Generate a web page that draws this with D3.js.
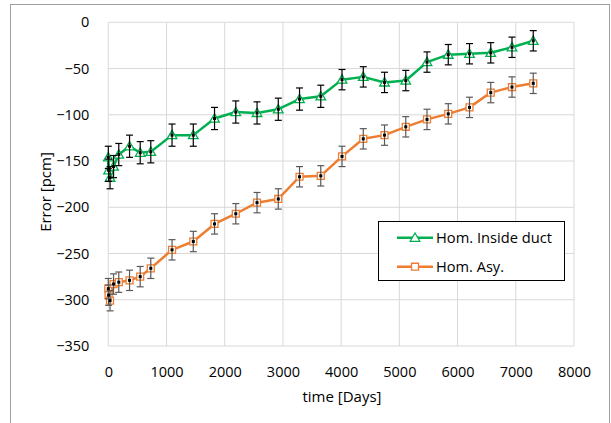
<!DOCTYPE html>
<html>
<head>
<meta charset="utf-8">
<script src="https://cdn.jsdelivr.net/npm/d3@7"></script>
<style>
    body { margin: 0; background: #fff; }
    svg { display: block; }
    text { font-family: "Open Sans", "Noto Sans", sans-serif; fill: #000; }
</style>
</head>
<body>
<svg id="chart" width="611" height="423"></svg>
<script>
// Data
var days = [0, 5, 30, 90, 180, 365, 548, 730, 1095, 1460, 1825, 2190, 2555, 2920,
    3285, 3650, 4015, 4380, 4745, 5110, 5475, 5840, 6205, 6570, 6935, 7300];
var insideDuct = [-146, -160, -168, -156, -143, -134, -141, -140, -122, -122, -104, -97, -98, -94,
    -83, -80, -62, -59, -65, -63, -43, -35, -34, -33, -27, -20];
var insideDuctErr = [12, 12, 12, 12, 12, 12, 12, 12, 12, 12, 12, 12, 12, 12,
    12, 12, 11, 11, 11, 11, 11, 11, 11, 11, 11, 11];
var asymptotic = [-288, -295, -301, -283, -281, -279, -275, -266, -246, -237, -218, -207, -195, -191,
    -167, -166, -145, -126, -122, -113, -105, -99, -92, -76, -70, -66];
var asymptoticErr = [11, 11, 11, 11, 11, 11, 11, 11, 11, 11, 11, 11, 11, 11,
    11, 11, 11, 11, 11, 11, 11, 11, 11, 11, 11, 11];
var xTicks = [0, 1000, 2000, 3000, 4000, 5000, 6000, 7000, 8000];
var yTicks = [0, -50, -100, -150, -200, -250, -300, -350];
var seriesNames = ['Hom. Inside duct', 'Hom. Asy.'];

var PLOT = { left: 108.3, right: 574, top: 22.3, bottom: 346 },
    GRID_COLOR = '#d9d9d9',
    FONT = '"Open Sans", "Noto Sans", sans-serif',
    TICK_SIZE = 14.5,
    TITLE_SIZE = 15,
    CAP = 3.5;

var svg = d3.select('#chart');

var x = d3.scaleLinear().domain([0, 8000]).range([PLOT.left, PLOT.right]);
var y = d3.scaleLinear().domain([-350, 0]).range([PLOT.bottom, PLOT.top]);

var series = [
    { name: seriesNames[0], values: insideDuct, err: insideDuctErr, color: '#00b050', errColor: '#000', shape: 'triangle', textWidth: 116 },
    { name: seriesNames[1], values: asymptotic, err: asymptoticErr, color: '#ed7d31', errColor: '#595959', shape: 'square', textWidth: 68 }
];

// Outer frame of the figure
svg.append('rect')
    .attr('x', 10.5).attr('y', 4.5)
    .attr('width', 599).attr('height', 440)
    .attr('fill', 'none')
    .attr('stroke', '#a0a0a0');

// Grid
svg.append('g')
    .selectAll('line')
    .data(xTicks)
    .enter()
    .append('line')
    .attr('x1', function(d) { return x(d); })
    .attr('x2', function(d) { return x(d); })
    .attr('y1', PLOT.top).attr('y2', PLOT.bottom)
    .attr('stroke', GRID_COLOR);

svg.append('g')
    .selectAll('line')
    .data(yTicks)
    .enter()
    .append('line')
    .attr('x1', PLOT.left).attr('x2', PLOT.right)
    .attr('y1', function(d) { return y(d); })
    .attr('y2', function(d) { return y(d); })
    .attr('stroke', GRID_COLOR);

// Axes labels (Excel style, no tick marks)
var xAxis = svg.append('g')
    .attr('transform', 'translate(0,' + PLOT.bottom + ')')
    .call(d3.axisBottom(x).tickValues(xTicks).tickFormat(d3.format('d')).tickSize(0).tickPadding(21));
var yAxis = svg.append('g')
    .attr('transform', 'translate(' + PLOT.left + ',0)')
    .call(d3.axisLeft(y).tickValues(yTicks).tickFormat(d3.format('d')).tickSize(0).tickPadding(19));

[xAxis, yAxis].forEach(function(axis) {
    axis.select('.domain').remove();
    axis.selectAll('text')
        .attr('font-family', FONT)
        .attr('font-size', TICK_SIZE)
        .attr('fill', '#000');
});

svg.append('text')
    .attr('x', 342).attr('y', 401.5)
    .attr('text-anchor', 'middle')
    .attr('font-size', TITLE_SIZE)
    .text('time [Days]');

svg.append('text')
    .attr('transform', 'translate(51,192) rotate(-90)')
    .attr('text-anchor', 'middle')
    .attr('font-size', TITLE_SIZE)
    .text('Error [pcm]');

// Series lines
var line = d3.line()
    .x(function(d) { return x(d.day); })
    .y(function(d) { return y(d.value); });

function points(s) {
    return days.map(function(day, i) {
        return { day: day, value: s.values[i], err: s.err[i] };
    });
}

function markerPath(shape) {
    var symbol = shape === 'triangle' ? d3.symbolTriangle : d3.symbolSquare;
    var area = shape === 'triangle' ? 40 : 48;
    return d3.symbol().type(symbol).size(area)();
}

series.forEach(function(s) {
    var g = svg.append('g');
    var data = points(s);

    g.append('path')
        .datum(data)
        .attr('d', line)
        .attr('fill', 'none')
        .attr('stroke', s.color)
        .attr('stroke-width', 2.5)
        .attr('stroke-linejoin', 'round');

    g.selectAll('path.marker')
        .data(data)
        .enter()
        .append('path')
        .classed('marker', true)
        .attr('d', markerPath(s.shape))
        .attr('transform', function(d) {
            var dy = s.shape === 'triangle' ? 0.8 : 0;
            return 'translate(' + x(d.day) + ',' + (y(d.value) + dy) + ')';
        })
        .attr('fill', '#fff')
        .attr('stroke', s.color)
        .attr('stroke-width', 1.3);
});

// Error bars on top of the markers
series.forEach(function(s) {
    var g = svg.append('g');
    var data = points(s);
    var bars = g.selectAll('g')
        .data(data)
        .enter()
        .append('g')
        .attr('stroke', s.errColor)
        .attr('stroke-width', 1.2);

    bars.append('line')
        .attr('x1', function(d) { return x(d.day); })
        .attr('x2', function(d) { return x(d.day); })
        .attr('y1', function(d) { return y(d.value - d.err); })
        .attr('y2', function(d) { return y(d.value + d.err); });

    [-1, 1].forEach(function(sign) {
        bars.append('line')
            .attr('x1', function(d) { return x(d.day) - CAP; })
            .attr('x2', function(d) { return x(d.day) + CAP; })
            .attr('y1', function(d) { return y(d.value + sign * d.err); })
            .attr('y2', function(d) { return y(d.value + sign * d.err); });
    });

    g.selectAll('rect')
        .data(data)
        .enter()
        .append('rect')
        .attr('x', function(d) { return x(d.day) - 1.5; })
        .attr('y', function(d) { return y(d.value) - 1.5; })
        .attr('width', 3).attr('height', 3)
        .attr('fill', '#000');
});

// Legend
var legend = svg.append('g');
legend.append('rect')
    .attr('x', 378.5).attr('y', 221.5)
    .attr('width', 186).attr('height', 59)
    .attr('fill', '#fff')
    .attr('stroke', '#000');

var item = legend.selectAll('g.item')
    .data(series)
    .enter()
    .append('g')
    .classed('item', true)
    .attr('transform', function(d, i) { return 'translate(0,' + (237.7 + i * 29) + ')'; });

item.append('line')
    .attr('x1', 397).attr('x2', 433)
    .attr('stroke', function(d) { return d.color; })
    .attr('stroke-width', 2.5);

item.append('path')
    .attr('d', function(d) { return markerPath(d.shape); })
    .attr('transform', function(d) { return 'translate(415,' + (d.shape === 'triangle' ? 0.8 : 0) + ')'; })
    .attr('fill', '#fff')
    .attr('stroke', function(d) { return d.color; })
    .attr('stroke-width', 1.3);

item.append('text')
    .attr('x', 436).attr('y', 5.3)
    .attr('font-size', 14)
    .attr('textLength', function(d) { return d.textWidth; })
    .attr('lengthAdjust', 'spacingAndGlyphs')
    .text(function(d) { return d.name; });
</script>
</body>
</html>
